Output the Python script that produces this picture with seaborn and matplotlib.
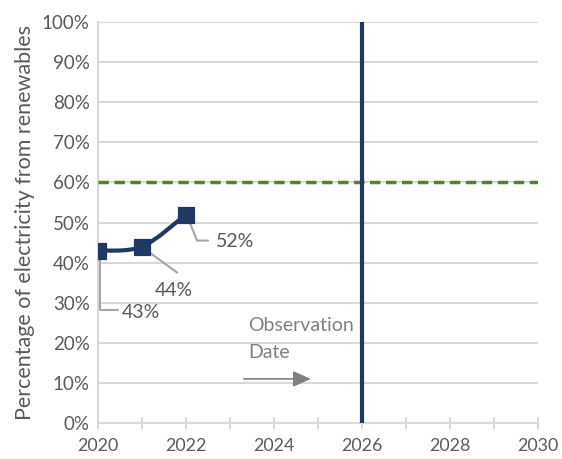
import numpy as np
import pandas as pd
import matplotlib
matplotlib.use("Agg")
import matplotlib.pyplot as plt
from matplotlib.path import Path
from matplotlib.patches import PathPatch
import seaborn as sns

years = [2020, 2021, 2022]
renewables = [0.43, 0.44, 0.52]
labels = ["43%", "44%", "52%"]
target = 0.60
observation_year = 2026
yticks = [i / 10 for i in range(11)]
xticks = [2020, 2022, 2024, 2026, 2028, 2030]

navy = "#203864"
green = "#548235"
grey_text = "#595959"
grid_c = "#D9D9D9"

sns.set_theme(style="white")
plt.rcParams['font.family'] = ['Lato', 'DejaVu Sans']

fig = plt.figure(figsize=(5.62, 4.59), dpi=100)
ax = fig.add_axes([0.1744, 0.0784, 0.7830, 0.8736])

df = pd.DataFrame({"year": years, "share": renewables})

# smooth line (Catmull-Rom through the data points, rendered as bezier)
pts = np.column_stack([df["year"].to_numpy(float), df["share"].to_numpy(float)])
verts = [tuple(pts[0])]
codes = [Path.MOVETO]
for i in range(len(pts) - 1):
    p0 = pts[i - 1] if i > 0 else pts[i]
    p1 = pts[i]
    p2 = pts[i + 1]
    p3 = pts[i + 2] if i + 2 < len(pts) else pts[i + 1]
    c1 = p1 + (p2 - p0) / 6
    c2 = p2 - (p3 - p1) / 6
    verts += [tuple(c1), tuple(c2), tuple(p2)]
    codes += [Path.CURVE4] * 3
ax.add_patch(PathPatch(Path(verts, codes), facecolor="none", edgecolor=navy, lw=3, zorder=4))

sns.scatterplot(data=df, x="year", y="share", marker="s", s=120, color=navy,
                edgecolor=navy, ax=ax, zorder=5)

ax.axhline(target, color=green, lw=2.5, ls=(0, (3, 1.6)), zorder=3)
ax.axvline(observation_year, color=navy, lw=3, zorder=4)

# data labels with leader lines
lab_pos = [(2020.55, 0.275), (2021.3, 0.33), (2022.67, 0.452)]
leaders = [
    [(2020.05, 0.41), (2020.05, 0.283), (2020.45, 0.283)],
    [(2021.05, 0.435), (2021.8, 0.375)],
    [(2022.05, 0.51), (2022.25, 0.455), (2022.5, 0.455)],
]
for (lx, ly), lab, ld in zip(lab_pos, labels, leaders):
    xs, ys = zip(*ld)
    ax.plot(xs, ys, color="#A6A6A6", lw=1.5, zorder=3)
    ax.text(lx, ly, lab, fontsize=14, color=grey_text, va="center", ha="left")

ax.text(2023.42, 0.243, "Observation", fontsize=14, color="#808080", va="center", ha="left")
ax.text(2023.42, 0.176, "Date", fontsize=14, color="#808080", va="center", ha="left")
ax.annotate("", xy=(2024.9, 0.11), xytext=(2023.25, 0.11),
            arrowprops=dict(arrowstyle="-|>,head_length=0.9,head_width=0.4",
                            color="#808080", lw=1.2))

ax.set_xlim(2020, 2030)
ax.set_ylim(0, 1.0)
ax.set_yticks(yticks)
ax.set_yticklabels([f"{int(round(v*100))}%" for v in yticks])
ax.set_xticks(xticks)
ax.set_xticks(range(2020, 2031), minor=True)
ax.yaxis.grid(True, color=grid_c, lw=1.5)
ax.set_axisbelow(True)
for s in ["top", "right"]:
    ax.spines[s].set_visible(False)
for s in ["left", "bottom"]:
    ax.spines[s].set_color(grid_c)
    ax.spines[s].set_linewidth(1.5)
ax.tick_params(axis="y", length=0, labelsize=13.5, labelcolor=grey_text, pad=6)
ax.tick_params(axis="x", which="both", direction="inout", length=8, width=1.5,
               color=grid_c, labelsize=12.8, labelcolor=grey_text, pad=7, bottom=True)
ax.set_xlabel("")
ax.set_ylabel("Percentage of electricity from renewables", fontsize=15.5, color=grey_text, labelpad=5)

fig.savefig("out.png", dpi=100)
